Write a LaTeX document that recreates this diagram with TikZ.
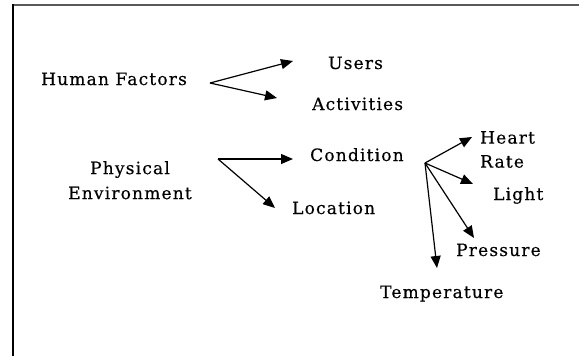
\documentclass[tikz,border=0pt]{standalone}
\usepackage{fontspec}
\setmainfont{DejaVu Serif}[LetterSpace=7, FakeBold=0.4]
\usetikzlibrary{arrows.meta}
\tikzset{
    lbl/.style={inner sep=0pt, font=\fontsize{17}{24}\selectfont},
    arr/.style={line width=1.2pt, -{Triangle[length=12pt,width=10pt]}}
}
\begin{document}
\begin{tikzpicture}[x=1pt, y=-1pt]
            \useasboundingbox (0, 0) rectangle (579, 356);
            \draw[black!65, line width=1.5pt] (13, 5) -- (579, 5);
            \draw[black, line width=1.5pt] (13, 4.25) -- (13, 356);
            \node[lbl, anchor=base west] (human) at (41, 85) {Human Factors};
            \node[lbl, anchor=base west] (users) at (328, 69) {Users};
            \node[lbl, anchor=base west] (activities) at (312, 110) {Activities};
            \node[lbl, anchor=north, align=center] (physical) at (130, 161) {Physical\\[1pt]Environment};
            \node[lbl, anchor=base west] (condition) at (310, 161) {Condition};
            \node[lbl, anchor=base west] (location) at (292, 214) {Location};
            \node[lbl, anchor=north west, align=left] (heartrate) at (480, 131) {Heart\\Rate};
            \node[lbl, anchor=base west] (light) at (493, 200) {Light};
            \node[lbl, anchor=base west] (pressure) at (456, 256) {Pressure};
            \node[lbl, anchor=base west] (temperature) at (380, 298) {Temperature};
            \coordinate (hfork) at (210, 83);
            \coordinate (pfork) at (218, 159);
            \coordinate (cfork) at (425, 163);
            \coordinate (tousers) at (293, 61);
            \coordinate (toactivities) at (277, 98);
            \coordinate (tocondition) at (293, 159);
            \coordinate (tolocation) at (275, 208);
            \coordinate (toheartrate) at (472, 137);
            \coordinate (tolight) at (473, 184);
            \coordinate (topressure) at (474, 238);
            \coordinate (totemperature) at (437, 268);
            \draw[arr] (hfork) -- (tousers);
            \draw[arr] (hfork) -- (toactivities);
            \draw[arr] (pfork) -- (tocondition);
            \draw[arr] (pfork) -- (tolocation);
            \draw[arr] (cfork) -- (toheartrate);
            \draw[arr] (cfork) -- (tolight);
            \draw[arr] (cfork) -- (topressure);
            \draw[arr] (cfork) -- (totemperature);
\end{tikzpicture}
\end{document}
